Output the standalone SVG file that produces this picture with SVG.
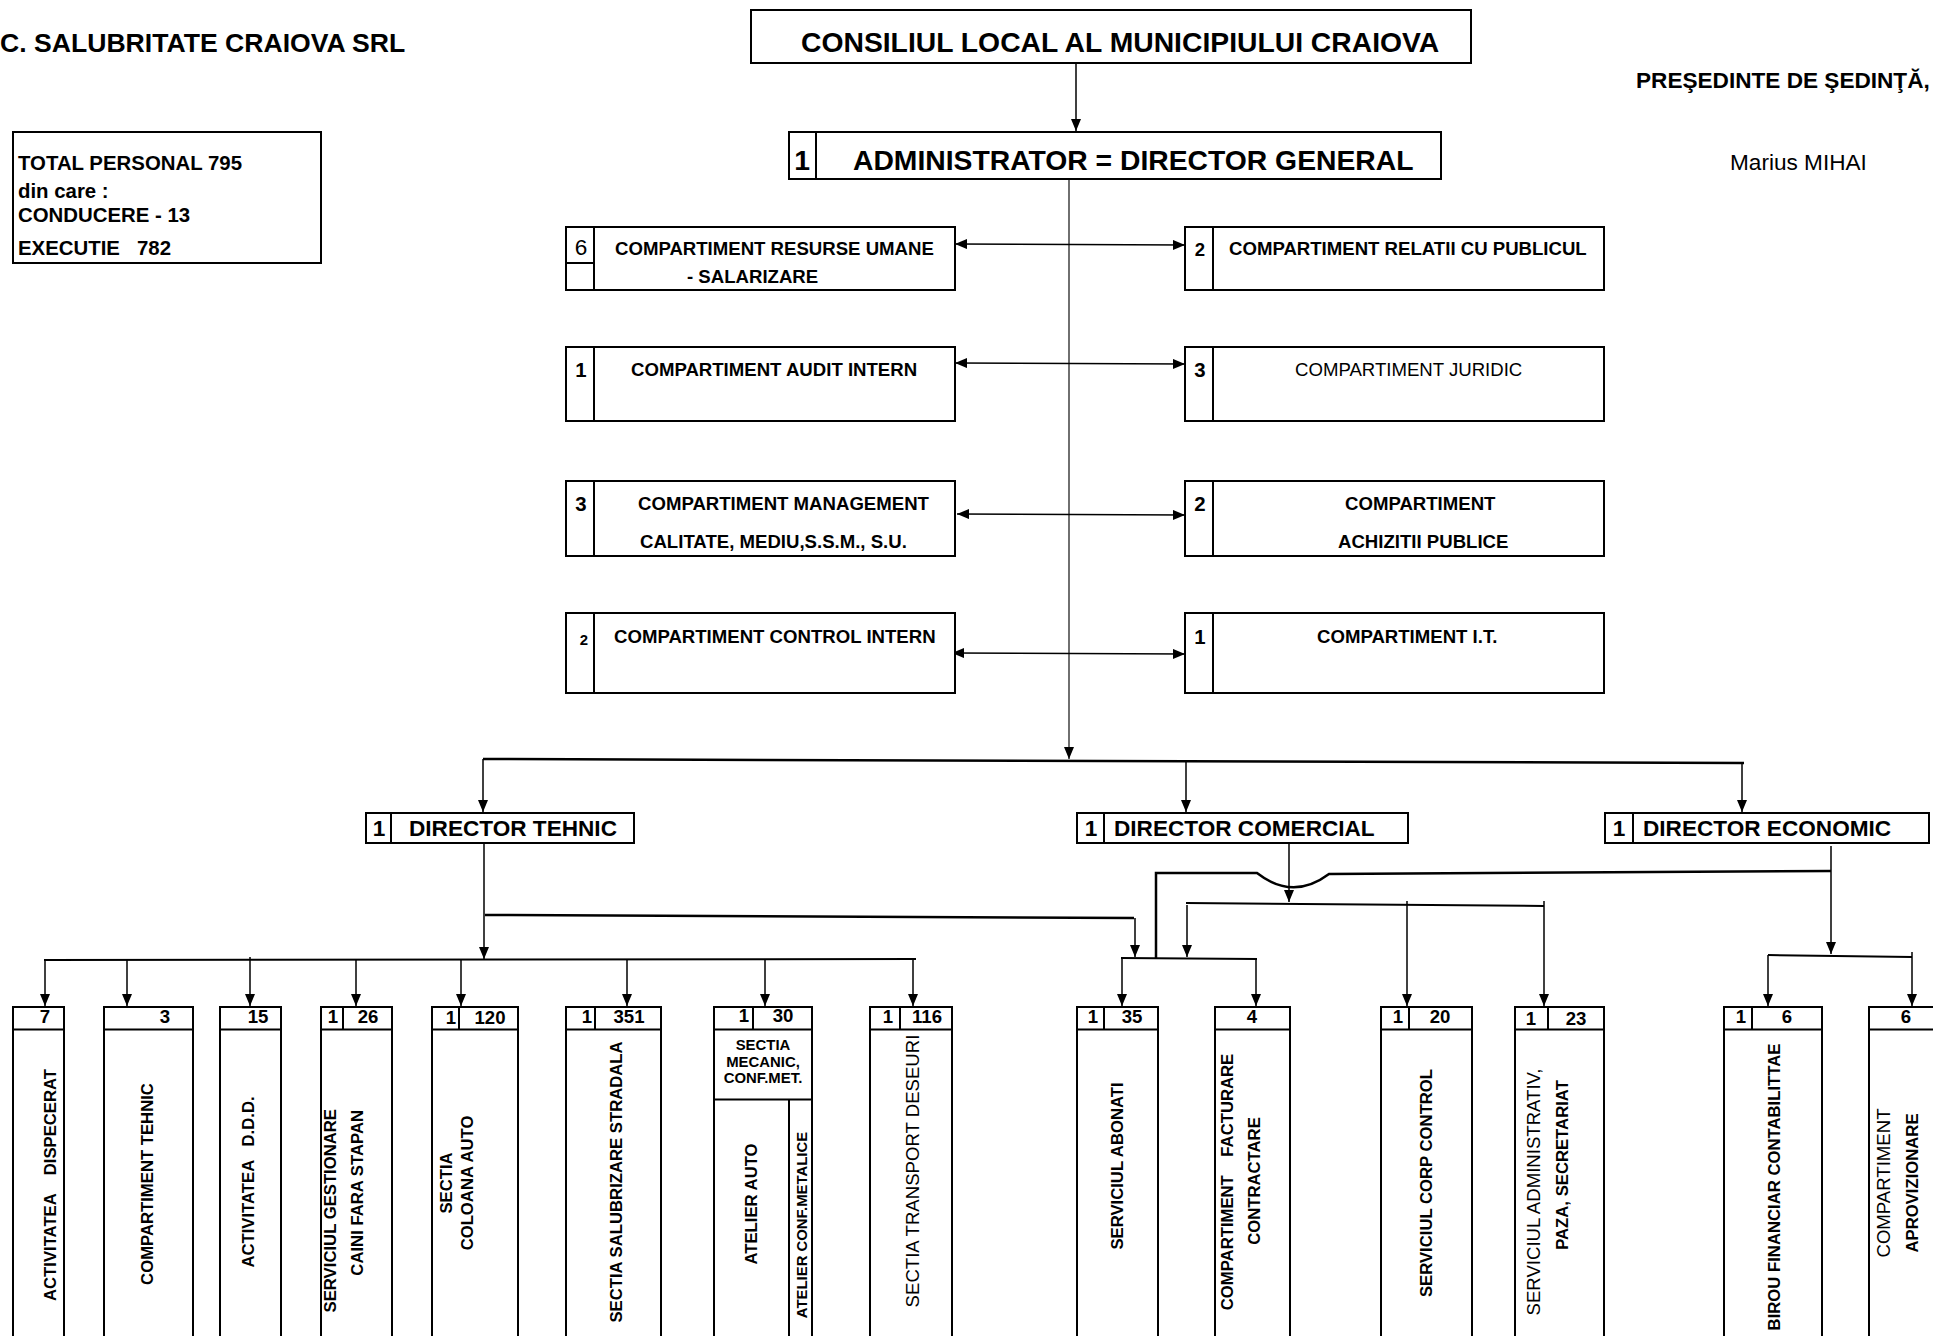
<svg xmlns="http://www.w3.org/2000/svg" width="1933" height="1336" viewBox="0 0 1933 1336">
<style>
.bx{fill:#fff;stroke:#000;stroke-width:2}
.dv{fill:none;stroke:#000;stroke-width:2}
.ln{fill:none;stroke:#000;stroke-width:1.5}
.th{fill:none;stroke:#000;stroke-width:2.5}
.tr{fill:none;stroke:#222;stroke-width:1.3}
text{font-family:"Liberation Sans",Arial,sans-serif;fill:#000}
.b{font-weight:bold}
.s28{font-size:28.3px}.s26{font-size:26.6px}.s22{font-size:22.6px}.s20{font-size:20.4px}
.s18{font-size:18.6px}.s17{font-size:16.7px}.s15{font-size:14.9px}
.m{text-anchor:middle}.e{text-anchor:end}
</style>
<defs>
<marker id="ah" viewBox="0 0 12 10" refX="12" refY="5" markerWidth="12" markerHeight="10" markerUnits="userSpaceOnUse" orient="auto-start-reverse"><path d="M0,0 L12,5 L0,10 z" fill="#000"/></marker>
</defs>

<g id="header">
<text class="b s26" x="0" y="52">C. SALUBRITATE CRAIOVA SRL</text>
<text class="b s22" x="1636" y="88">PREŞEDINTE DE ŞEDINŢĂ,</text>
<text class="s22" x="1730" y="170">Marius MIHAI</text>
</g>

<g id="total">
<rect class="bx" x="13" y="132" width="308" height="131"/>
<text class="b s20" x="18" y="170">TOTAL PERSONAL 795</text>
<text class="b s20" x="18" y="198">din care :</text>
<text class="b s20" x="18" y="222">CONDUCERE - 13</text>
<text class="b s20" x="18" y="255" xml:space="preserve">EXECUTIE   782</text>
</g>

<g id="connectors">
<line class="ln" x1="1076" y1="63" x2="1076" y2="131" marker-end="url(#ah)"/>
<line class="tr" x1="1069" y1="179" x2="1069" y2="759" marker-end="url(#ah)"/>
<line class="ln" x1="955" y1="244" x2="1185" y2="245" marker-start="url(#ah)" marker-end="url(#ah)"/>
<line class="ln" x1="955" y1="363" x2="1185" y2="364" marker-start="url(#ah)" marker-end="url(#ah)"/>
<line class="ln" x1="957" y1="514" x2="1185" y2="515" marker-start="url(#ah)" marker-end="url(#ah)"/>
<line class="ln" x1="952" y1="653" x2="1185" y2="654" marker-start="url(#ah)" marker-end="url(#ah)"/>
<line class="th" x1="483" y1="759" x2="1744" y2="763"/>
<line class="ln" x1="483" y1="759" x2="483" y2="812" marker-end="url(#ah)"/>
<line class="ln" x1="1186" y1="761" x2="1186" y2="812" marker-end="url(#ah)"/>
<line class="ln" x1="1742" y1="763" x2="1742" y2="812" marker-end="url(#ah)"/>
<line class="ln" x1="484" y1="843" x2="484" y2="959" marker-end="url(#ah)"/>
<line class="dv" x1="44" y1="960" x2="916" y2="959"/>
<line class="ln" x1="45" y1="960" x2="45" y2="1006" marker-end="url(#ah)"/>
<line class="ln" x1="127" y1="960" x2="127" y2="1006" marker-end="url(#ah)"/>
<line class="ln" x1="250" y1="957" x2="250" y2="1006" marker-end="url(#ah)"/>
<line class="ln" x1="356" y1="960" x2="356" y2="1006" marker-end="url(#ah)"/>
<line class="ln" x1="461" y1="960" x2="461" y2="1006" marker-end="url(#ah)"/>
<line class="ln" x1="627" y1="960" x2="627" y2="1006" marker-end="url(#ah)"/>
<line class="ln" x1="765" y1="960" x2="765" y2="1006" marker-end="url(#ah)"/>
<line class="ln" x1="913" y1="960" x2="913" y2="1006" marker-end="url(#ah)"/>
<path class="th" d="M485,915 L1134,918"/>
<line class="ln" x1="1135" y1="918" x2="1135" y2="957" marker-end="url(#ah)"/>
<line class="ln" x1="1289" y1="843" x2="1289" y2="902" marker-end="url(#ah)"/>
<line class="dv" x1="1186" y1="903" x2="1544" y2="906"/>
<line class="ln" x1="1187" y1="905" x2="1187" y2="957" marker-end="url(#ah)"/>
<line class="ln" x1="1407" y1="901" x2="1407" y2="1006" marker-end="url(#ah)"/>
<line class="ln" x1="1544" y1="901" x2="1544" y2="1006" marker-end="url(#ah)"/>
<line class="dv" x1="1121" y1="958" x2="1257" y2="959"/>
<line class="ln" x1="1122" y1="958" x2="1122" y2="1006" marker-end="url(#ah)"/>
<line class="ln" x1="1256" y1="959" x2="1256" y2="1006" marker-end="url(#ah)"/>
<line class="ln" x1="1831" y1="846" x2="1831" y2="954" marker-end="url(#ah)"/>
<path class="th" d="M1831,871 L1329,874 Q1293,901 1257,873 L1156,873 L1156,958"/>
<line class="dv" x1="1768" y1="955" x2="1912" y2="957"/>
<line class="ln" x1="1768" y1="955" x2="1768" y2="1006" marker-end="url(#ah)"/>
<line class="ln" x1="1912" y1="952" x2="1912" y2="1006" marker-end="url(#ah)"/>
</g>

<g id="consiliul">
<rect class="bx" x="751" y="10" width="720" height="53"/>
<text class="b s28" x="801" y="52">CONSILIUL LOCAL AL MUNICIPIULUI CRAIOVA</text>
</g>

<g id="administrator">
<rect class="bx" x="789" y="132" width="652" height="47"/>
<line class="dv" x1="816" y1="132" x2="816" y2="179"/>
<text class="b s28 m" x="802" y="170">1</text>
<text class="b s28" x="853" y="170">ADMINISTRATOR = DIRECTOR GENERAL</text>
</g>

<g id="resurse-umane">
<rect class="bx" x="566" y="227" width="389" height="63"/>
<line class="dv" x1="594" y1="227" x2="594" y2="290"/>
<line class="dv" x1="566" y1="263" x2="594" y2="263"/>
<text class="s22 m" x="581" y="255">6</text>
<text class="b s18" x="615" y="255">COMPARTIMENT RESURSE UMANE</text>
<text class="b s18" x="687" y="283">- SALARIZARE</text>
</g>

<g id="relatii-public">
<rect class="bx" x="1185" y="227" width="419" height="63"/>
<line class="dv" x1="1213" y1="227" x2="1213" y2="290"/>
<text class="b s18 m" x="1200" y="256">2</text>
<text class="b s18" x="1229" y="255">COMPARTIMENT RELATII CU PUBLICUL</text>
</g>

<g id="audit-intern">
<rect class="bx" x="566" y="347" width="389" height="74"/>
<line class="dv" x1="594" y1="347" x2="594" y2="421"/>
<text class="b s20 m" x="581" y="377">1</text>
<text class="b s18" x="631" y="376">COMPARTIMENT AUDIT INTERN</text>
</g>

<g id="juridic">
<rect class="bx" x="1185" y="347" width="419" height="74"/>
<line class="dv" x1="1213" y1="347" x2="1213" y2="421"/>
<text class="b s20 m" x="1200" y="377">3</text>
<text class="s18" x="1295" y="376">COMPARTIMENT JURIDIC</text>
</g>

<g id="management">
<rect class="bx" x="566" y="481" width="389" height="75"/>
<line class="dv" x1="594" y1="481" x2="594" y2="556"/>
<text class="b s20 m" x="581" y="511">3</text>
<text class="b s18" x="638" y="510">COMPARTIMENT MANAGEMENT</text>
<text class="b s18" x="640" y="548">CALITATE, MEDIU,S.S.M., S.U.</text>
</g>

<g id="achizitii">
<rect class="bx" x="1185" y="481" width="419" height="75"/>
<line class="dv" x1="1213" y1="481" x2="1213" y2="556"/>
<text class="b s20 m" x="1200" y="511">2</text>
<text class="b s18" x="1345" y="510">COMPARTIMENT</text>
<text class="b s18" x="1338" y="548">ACHIZITII PUBLICE</text>
</g>

<g id="control-intern">
<rect class="bx" x="566" y="613" width="389" height="80"/>
<line class="dv" x1="594" y1="613" x2="594" y2="693"/>
<text class="b s15 m" x="584" y="645">2</text>
<text class="b s18" x="614" y="643">COMPARTIMENT CONTROL INTERN</text>
</g>

<g id="it">
<rect class="bx" x="1185" y="613" width="419" height="80"/>
<line class="dv" x1="1213" y1="613" x2="1213" y2="693"/>
<text class="b s20 m" x="1200" y="644">1</text>
<text class="b s18" x="1317" y="643">COMPARTIMENT I.T.</text>
</g>

<g id="director-tehnic">
<rect class="bx" x="366" y="813" width="268" height="30"/>
<line class="dv" x1="391" y1="813" x2="391" y2="843"/>
<text class="b s22 m" x="379" y="836">1</text>
<text class="b s22" x="409" y="836">DIRECTOR TEHNIC</text>
</g>

<g id="director-comercial">
<rect class="bx" x="1077" y="813" width="331" height="30"/>
<line class="dv" x1="1104" y1="813" x2="1104" y2="843"/>
<text class="b s22 m" x="1091" y="836">1</text>
<text class="b s22" x="1114" y="836">DIRECTOR COMERCIAL</text>
</g>

<g id="director-economic">
<rect class="bx" x="1605" y="813" width="324" height="30"/>
<line class="dv" x1="1633" y1="813" x2="1633" y2="843"/>
<text class="b s22 m" x="1619" y="836">1</text>
<text class="b s22" x="1643" y="836">DIRECTOR ECONOMIC</text>
</g>

<g id="dispecerat">
<rect class="bx" x="13" y="1007" width="51" height="340"/>
<line class="dv" x1="13" y1="1029.5" x2="64" y2="1029.5"/>
<text class="b s18 m" x="45" y="1023">7</text>
<text class="b s17 m" transform="translate(56,1185) rotate(-90)" xml:space="preserve">ACTIVITATEA    DISPECERAT</text>
</g>

<g id="compartiment-tehnic">
<rect class="bx" x="104" y="1007" width="89" height="340"/>
<line class="dv" x1="104" y1="1029.5" x2="193" y2="1029.5"/>
<text class="b s18 m" x="165" y="1023">3</text>
<text class="b s17 m" transform="translate(153,1184) rotate(-90)">COMPARTIMENT TEHNIC</text>
</g>

<g id="ddd">
<rect class="bx" x="220" y="1007" width="61" height="340"/>
<line class="dv" x1="220" y1="1029.5" x2="281" y2="1029.5"/>
<text class="b s18 m" x="258" y="1023">15</text>
<text class="b s17 m" transform="translate(254,1182) rotate(-90)" xml:space="preserve">ACTIVITATEA   D.D.D.</text>
</g>

<g id="caini">
<rect class="bx" x="321" y="1007" width="71" height="340"/>
<line class="dv" x1="321" y1="1029.5" x2="392" y2="1029.5"/>
<line class="dv" x1="343" y1="1007" x2="343" y2="1029.5"/>
<text class="b s18 m" x="333" y="1023">1</text>
<text class="b s18 m" x="368" y="1023">26</text>
<text class="b s17 e" transform="translate(336,1109) rotate(-90)">SERVICIUL GESTIONARE</text>
<text class="b s17 e" transform="translate(363,1110) rotate(-90)">CAINI FARA STAPAN</text>
</g>

<g id="coloana-auto">
<rect class="bx" x="432" y="1007" width="86" height="340"/>
<line class="dv" x1="432" y1="1029.5" x2="518" y2="1029.5"/>
<line class="dv" x1="459" y1="1007" x2="459" y2="1029.5"/>
<text class="b s18 m" x="451" y="1024">1</text>
<text class="b s18 m" x="490" y="1024">120</text>
<text class="b s17 m" transform="translate(452,1183) rotate(-90)">SECTIA</text>
<text class="b s17 m" transform="translate(472.5,1183) rotate(-90)">COLOANA AUTO</text>
</g>

<g id="salubrizare">
<rect class="bx" x="566" y="1007" width="95" height="340"/>
<line class="dv" x1="566" y1="1029.5" x2="661" y2="1029.5"/>
<line class="dv" x1="595" y1="1007" x2="595" y2="1029.5"/>
<text class="b s18 m" x="587" y="1023">1</text>
<text class="b s18 m" x="629" y="1023">351</text>
<text class="b s17 m" transform="translate(622,1182) rotate(-90)">SECTIA SALUBRIZARE STRADALA</text>
</g>

<g id="mecanic">
<rect class="bx" x="714" y="1007" width="98" height="340"/>
<line class="dv" x1="714" y1="1029.5" x2="812" y2="1029.5"/>
<line class="dv" x1="753" y1="1007" x2="753" y2="1029.5"/>
<line class="dv" x1="714" y1="1099.5" x2="812" y2="1099.5"/>
<line class="dv" x1="789" y1="1099.5" x2="789" y2="1347"/>
<text class="b s18 m" x="744" y="1022">1</text>
<text class="b s18 m" x="783" y="1022">30</text>
<text class="b s15 m" x="763" y="1050">SECTIA</text>
<text class="b s15 m" x="763" y="1067">MECANIC,</text>
<text class="b s15 m" x="763" y="1083">CONF.MET.</text>
<text class="b s17 m" transform="translate(757,1204) rotate(-90)">ATELIER AUTO</text>
<text class="b s15 m" transform="translate(807,1225) rotate(-90)">ATELIER CONF.METALICE</text>
</g>

<g id="transport">
<rect class="bx" x="870" y="1007" width="82" height="340"/>
<line class="dv" x1="870" y1="1029.5" x2="952" y2="1029.5"/>
<line class="dv" x1="900" y1="1007" x2="900" y2="1029.5"/>
<text class="b s18 m" x="888" y="1023">1</text>
<text class="b s18 m" x="927" y="1023">116</text>
<text class="s18 m" transform="translate(919,1171) rotate(-90)">SECTIA TRANSPORT DESEURI</text>
</g>

<g id="abonati">
<rect class="bx" x="1077" y="1007" width="81" height="340"/>
<line class="dv" x1="1077" y1="1029.5" x2="1158" y2="1029.5"/>
<line class="dv" x1="1104" y1="1007" x2="1104" y2="1029.5"/>
<text class="b s18 m" x="1093" y="1023">1</text>
<text class="b s18 m" x="1132" y="1023">35</text>
<text class="b s17 m" transform="translate(1123,1166) rotate(-90)">SERVICIUL ABONATI</text>
</g>

<g id="facturare">
<rect class="bx" x="1215" y="1007" width="75" height="340"/>
<line class="dv" x1="1215" y1="1029.5" x2="1290" y2="1029.5"/>
<text class="b s18 m" x="1252" y="1023">4</text>
<text class="b s17 m" transform="translate(1233,1182) rotate(-90)" xml:space="preserve">COMPARTIMENT    FACTURARE</text>
<text class="b s17 m" transform="translate(1260,1181) rotate(-90)">CONTRACTARE</text>
</g>

<g id="corp-control">
<rect class="bx" x="1381" y="1007" width="91" height="340"/>
<line class="dv" x1="1381" y1="1029.5" x2="1472" y2="1029.5"/>
<line class="dv" x1="1409" y1="1007" x2="1409" y2="1029.5"/>
<text class="b s18 m" x="1398" y="1023">1</text>
<text class="b s18 m" x="1440" y="1023">20</text>
<text class="b s17 m" transform="translate(1431.5,1183) rotate(-90)">SERVICIUL CORP CONTROL</text>
</g>

<g id="administrativ">
<rect class="bx" x="1515" y="1007" width="89" height="340"/>
<line class="dv" x1="1515" y1="1029.5" x2="1604" y2="1029.5"/>
<line class="dv" x1="1548" y1="1007" x2="1548" y2="1029.5"/>
<text class="b s18 m" x="1531" y="1025">1</text>
<text class="b s18 m" x="1576" y="1025">23</text>
<text class="s18 m" transform="translate(1540,1192) rotate(-90)">SERVICIUL ADMINISTRATIV,</text>
<text class="b s17 m" transform="translate(1567.6,1165) rotate(-90)">PAZA, SECRETARIAT</text>
</g>

<g id="financiar">
<rect class="bx" x="1724" y="1007" width="98" height="340"/>
<line class="dv" x1="1724" y1="1029.5" x2="1822" y2="1029.5"/>
<line class="dv" x1="1752" y1="1007" x2="1752" y2="1029.5"/>
<text class="b s18 m" x="1741" y="1023">1</text>
<text class="b s18 m" x="1787" y="1023">6</text>
<text class="b s17 m" transform="translate(1779.5,1187) rotate(-90)">BIROU FINANCIAR CONTABILITTAE</text>
</g>

<g id="aprovizionare">
<rect class="bx" x="1869" y="1007" width="90" height="340"/>
<line class="dv" x1="1869" y1="1029.5" x2="1959" y2="1029.5"/>
<text class="b s18 m" x="1906" y="1023">6</text>
<text class="s18 m" transform="translate(1890,1183) rotate(-90)">COMPARTIMENT</text>
<text class="b s17 m" transform="translate(1918,1183) rotate(-90)">APROVIZIONARE</text>
</g>
</svg>
